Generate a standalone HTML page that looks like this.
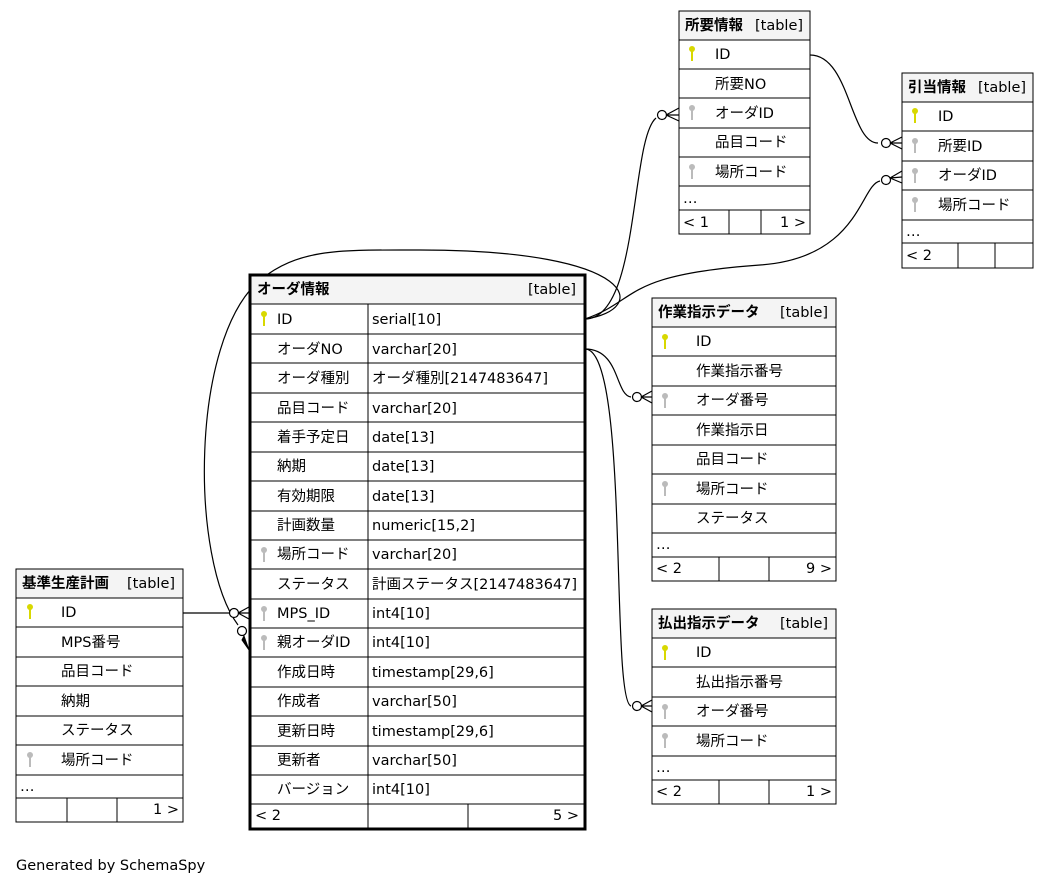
<!DOCTYPE html>
<html><head><meta charset="utf-8"><style>
body{margin:0;background:#fff}
svg{display:block}
text{font-family:"DejaVu Sans","Liberation Sans","Noto Sans CJK JP",sans-serif;font-size:14.5px;fill:#000}
.b{font-weight:bold}
.r{fill:none;stroke:#000;stroke-width:1}
.h{fill:#f4f4f4;stroke:#000}
.e{fill:none;stroke:#000;stroke-width:1.2}
.c{fill:#fff;stroke:#000;stroke-width:1.2}
</style></head><body>
<svg width="1049" height="885" viewBox="0 0 1049 885">
<defs>
<g id="pk"><circle cx="0" cy="-3" r="3" fill="#d8d800"/><rect x="-1" y="-1" width="2" height="10" fill="#d8d800"/></g>
<g id="fk"><circle cx="0" cy="-3" r="3" fill="#bbb"/><rect x="-1" y="-1" width="2" height="10" fill="#bbb"/></g>
</defs>

<path class="e" d="M810,55 C850,55 850,143 878,143"/>
<circle class="c" cx="886" cy="143" r="4.5"/><path class="e" d="M890,143 L902,137 M890,143 L902,149 M890,143 L902,143"/>
<path class="e" d="M585,319 C640,319 630,140 656,118"/>
<circle class="c" cx="662" cy="115" r="4.5"/><path class="e" d="M666,115 L679,108 M666,115 L679,121 M666,115 L679,115"/>
<path class="e" d="M585,319 C640,300 620,275 760,265 C860,258 860,185 880,181"/>
<circle class="c" cx="886" cy="180" r="4.5"/><path class="e" d="M890,178 L902,171 M890,178 L902,183 M890,178 L902,177"/>
<path class="e" d="M585,319 C650,310 640,250 420,250 C340,250 300,248 260,280 C190,340 190,560 238,625"/>
<circle class="c" cx="242" cy="631" r="4.5"/><path d="M244,636 L249,650 L242,640 Z" fill="#000" stroke="#000"/>
<path class="e" d="M183,613 L230,613"/>
<circle class="c" cx="234" cy="613" r="4.5"/><path class="e" d="M238,613 L249,607 M238,613 L249,619 M238,613 L249,613"/>
<path class="e" d="M585,349 C620,349 615,395 631,397"/>
<circle class="c" cx="637" cy="397" r="4.5"/><path class="e" d="M641,397 L652,391 M641,397 L652,403 M641,397 L652,397"/>
<path class="e" d="M585,349 C630,349 610,700 631,706"/>
<circle class="c" cx="637" cy="706" r="4.5"/><path class="e" d="M641,706 L652,700 M641,706 L652,712 M641,706 L652,706"/>

<rect class="h" x="679" y="11" width="131" height="29"/>
<text x="685" y="30" class="b">所要情報</text><text x="755" y="30">[table]</text>
<rect class="r" x="679" y="11" width="131" height="223"/>
<path class="r" d="M679,40H810M679,69H810M679,98H810M679,128H810M679,157H810M679,186H810M679,210H810M729,210V234M761,210V234"/>
<use href="#pk" x="692" y="52"/><text x="715" y="59">ID</text>
<text x="715" y="89">所要NO</text>
<use href="#fk" x="692" y="111"/><text x="715" y="118">オーダID</text>
<text x="715" y="147">品目コード</text>
<use href="#fk" x="692" y="170"/><text x="715" y="177">場所コード</text>
<text x="683" y="203">…</text>
<text x="683" y="227">&lt; 1</text><text x="780" y="227">1 &gt;</text>

<rect class="h" x="902" y="73" width="131" height="29"/>
<text x="908" y="92" class="b">引当情報</text><text x="978" y="92">[table]</text>
<rect class="r" x="902" y="73" width="131" height="195"/>
<path class="r" d="M902,102H1033M902,131H1033M902,161H1033M902,190H1033M902,220H1033M902,243H1033M958,243V268M995,243V268"/>
<use href="#pk" x="915" y="114"/><text x="938" y="121">ID</text>
<use href="#fk" x="915" y="144"/><text x="938" y="151">所要ID</text>
<use href="#fk" x="915" y="174"/><text x="938" y="180">オーダID</text>
<use href="#fk" x="915" y="203"/><text x="938" y="210">場所コード</text>
<text x="906" y="236">…</text>
<text x="906" y="260">&lt; 2</text>

<rect class="h" x="652" y="298" width="184" height="29"/>
<text x="658" y="317" class="b">作業指示データ</text><text x="780" y="317">[table]</text>
<rect class="r" x="652" y="298" width="184" height="283"/>
<path class="r" d="M652,327H836M652,356H836M652,386H836M652,415H836M652,445H836M652,474H836M652,504H836M652,533H836M652,557H836M719,557V581M769,557V581"/>
<use href="#pk" x="665" y="340"/><text x="696" y="346">ID</text>
<text x="696" y="376">作業指示番号</text>
<use href="#fk" x="665" y="399"/><text x="696" y="405">オーダ番号</text>
<text x="696" y="435">作業指示日</text>
<text x="696" y="464">品目コード</text>
<use href="#fk" x="665" y="487"/><text x="696" y="494">場所コード</text>
<text x="696" y="523">ステータス</text>
<text x="656" y="549">…</text>
<text x="656" y="573">&lt; 2</text><text x="806" y="573">9 &gt;</text>

<rect class="h" x="652" y="609" width="184" height="29"/>
<text x="658" y="628" class="b">払出指示データ</text><text x="780" y="628">[table]</text>
<rect class="r" x="652" y="609" width="184" height="195"/>
<path class="r" d="M652,638H836M652,667H836M652,697H836M652,726H836M652,756H836M652,780H836M719,780V804M769,780V804"/>
<use href="#pk" x="665" y="651"/><text x="696" y="657">ID</text>
<text x="696" y="687">払出指示番号</text>
<use href="#fk" x="665" y="710"/><text x="696" y="716">オーダ番号</text>
<use href="#fk" x="665" y="739"/><text x="696" y="746">場所コード</text>
<text x="656" y="772">…</text>
<text x="656" y="796">&lt; 2</text><text x="806" y="796">1 &gt;</text>

<rect class="h" x="16" y="569" width="167" height="29"/>
<text x="22" y="588" class="b">基準生産計画</text><text x="127" y="588">[table]</text>
<rect class="r" x="16" y="569" width="167" height="253"/>
<path class="r" d="M16,598H183M16,627H183M16,657H183M16,686H183M16,716H183M16,745H183M16,775H183M16,798H183M67,798V822M117,798V822"/>
<use href="#pk" x="30" y="610"/><text x="61" y="617">ID</text>
<text x="61" y="647">MPS番号</text>
<text x="61" y="676">品目コード</text>
<text x="61" y="706">納期</text>
<text x="61" y="735">ステータス</text>
<use href="#fk" x="30" y="758"/><text x="61" y="765">場所コード</text>
<text x="20" y="791">…</text>
<text x="153" y="814">1 &gt;</text>

<rect class="h" x="250" y="275" width="335" height="29"/>
<text x="257" y="294" class="b">オーダ情報</text><text x="528" y="294">[table]</text>
<path class="r" d="M250,304H585M250,334H585M250,363H585M250,393H585M250,422H585M250,452H585M250,481H585M250,511H585M250,540H585M250,569H585M250,599H585M250,628H585M250,657H585M250,687H585M250,716H585M250,746H585M250,775H585M250,804H585M368,304V829M468,804V829"/>
<rect x="250" y="275" width="335" height="554" fill="none" stroke="#000" stroke-width="3"/>
<use href="#pk" x="264" y="317"/><text x="277" y="324">ID</text><text x="372" y="324">serial[10]</text>
<text x="277" y="354">オーダNO</text><text x="372" y="354">varchar[20]</text>
<text x="277" y="383">オーダ種別</text><text x="372" y="383">オーダ種別[2147483647]</text>
<text x="277" y="413">品目コード</text><text x="372" y="413">varchar[20]</text>
<text x="277" y="442">着手予定日</text><text x="372" y="442">date[13]</text>
<text x="277" y="471">納期</text><text x="372" y="471">date[13]</text>
<text x="277" y="501">有効期限</text><text x="372" y="501">date[13]</text>
<text x="277" y="530">計画数量</text><text x="372" y="530">numeric[15,2]</text>
<use href="#fk" x="264" y="553"/><text x="277" y="559">場所コード</text><text x="372" y="559">varchar[20]</text>
<text x="277" y="589">ステータス</text><text x="372" y="589">計画ステータス[2147483647]</text>
<use href="#fk" x="264" y="612"/><text x="277" y="618">MPS_ID</text><text x="372" y="618">int4[10]</text>
<use href="#fk" x="264" y="641"/><text x="277" y="647">親オーダID</text><text x="372" y="647">int4[10]</text>
<text x="277" y="677">作成日時</text><text x="372" y="677">timestamp[29,6]</text>
<text x="277" y="706">作成者</text><text x="372" y="706">varchar[50]</text>
<text x="277" y="736">更新日時</text><text x="372" y="736">timestamp[29,6]</text>
<text x="277" y="765">更新者</text><text x="372" y="765">varchar[50]</text>
<text x="277" y="794">バージョン</text><text x="372" y="794">int4[10]</text>
<text x="255" y="820">&lt; 2</text><text x="553" y="820">5 &gt;</text>

<text x="16" y="870">Generated by SchemaSpy</text>
</svg>
</body></html>
